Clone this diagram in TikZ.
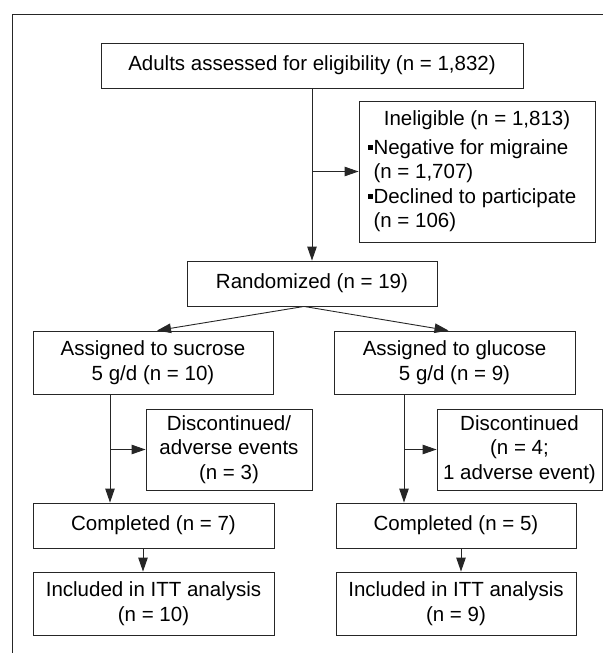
\documentclass[tikz,border=0pt]{standalone}
\usepackage{fontspec}
\setmainfont{Liberation Sans}
\usetikzlibrary{arrows.meta,calc}
\newcommand{\mybul}{\rule[0.22em]{0.22em}{0.22em}\kern0.05em}
\begin{document}
\begin{tikzpicture}[x=1pt,y=-1pt,
  box/.style={draw=black!85, line width=0.9pt, inner sep=0pt, align=center,
    font=\fontsize{20.5}{24.5}\selectfont, text=black},
  conn/.style={draw=black!85, line width=0.9pt},
  arr/.style={conn, -{Triangle[length=14pt,width=9.5pt]}}]
\useasboundingbox (0,0) rectangle (603,653);
% frame
\draw[conn] (12,653) -- (12,14) -- (603,14);
% nodes
\node[box, minimum width=422pt, minimum height=45pt] (top) at (312,65.5) {Adults assessed for eligibility (n = 1,832)};
\node[box, minimum width=236pt, minimum height=141pt] (inel) at (477,171.5)
  {\parbox{218pt}{\centering Ineligible (n = 1,813)\par\vspace{4pt}\raggedright
   \mybul Negative for migraine\\
   \hspace*{0.27em}(n = 1,707)\\
   \mybul Declined to participate\\
   \hspace*{0.27em}(n = 106)}};
\node[box, minimum width=250pt, minimum height=45pt] (rand) at (312,283.5) {Randomized (n = 19)};
\node[box, minimum width=240pt, minimum height=63pt] (suc) at (153,362.5) {Assigned to sucrose\\5 g/d (n = 10)};
\node[box, minimum width=241pt, minimum height=63pt] (glu) at (454.5,362.5) {Assigned to glucose\\5 g/d (n = 9)};
\node[box, minimum width=166pt, minimum height=81pt] (disc1) at (229,449.5) {Discontinued/\\adverse events\\(n = 3)};
\node[box, minimum width=165pt, minimum height=81pt] (disc2) at (519.5,449.5) {Discontinued\\(n = 4;\\1 adverse event)};
\node[box, minimum width=241pt, minimum height=45pt] (comp1) at (153.5,525.5) {Completed (n = 7)};
\node[box, minimum width=240pt, minimum height=45pt] (comp2) at (456,525.5) {Completed (n = 5)};
\node[box, minimum width=241pt, minimum height=63pt] (inc1) at (153.5,603.5) {Included in ITT analysis\\(n = 10)};
\node[box, minimum width=240pt, minimum height=63pt] (inc2) at (456,603.5) {Included in ITT analysis\\(n = 9)};
% connectors
\draw[arr] (top.south) -- (rand.north);
\coordinate (b0) at (top.south |- inel.west);
\draw[arr] (b0) -- (inel.west);
\coordinate (rs) at ($(rand.south)+(-8,0)$);
\coordinate (sa) at ($(suc.north)+(4,0)$);
\coordinate (ga) at ($(glu.north)+(-6,0)$);
\draw[arr] (rs) -- (sa);
\draw[arr] (rs) -- (ga);
\coordinate (sl) at ($(suc.south)+(-43,0)$);
\draw[arr] (sl) -- (sl |- comp1.north);
\draw[arr] (sl |- disc1.west) -- (disc1.west);
\coordinate (gl) at ($(glu.south)+(-50.5,0)$);
\draw[arr] (gl) -- (gl |- comp2.north);
\draw[arr] (gl |- disc2.west) -- (disc2.west);
\coordinate (c1) at ($(comp1.south)+(-10.5,0)$);
\draw[arr] (c1) -- (c1 |- inc1.north);
\coordinate (c2) at ($(comp2.south)+(5,0)$);
\draw[arr] (c2) -- (c2 |- inc2.north);
\end{tikzpicture}
\end{document}
